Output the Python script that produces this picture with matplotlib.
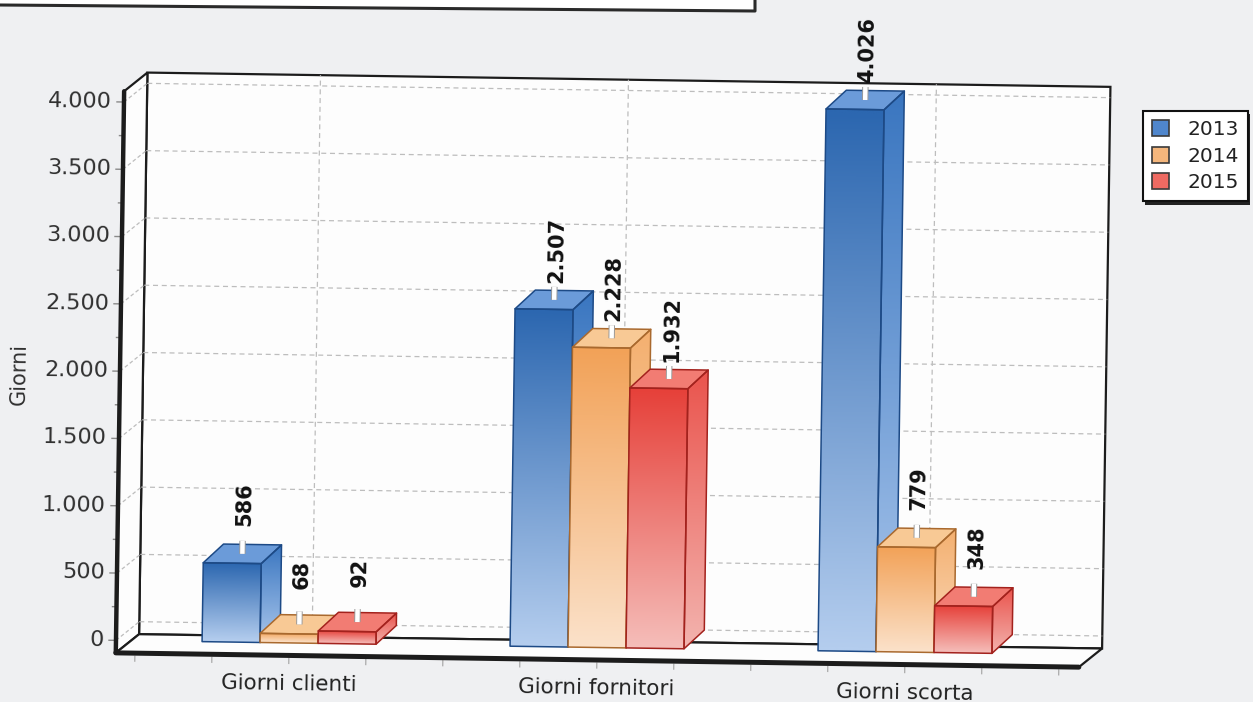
import numpy as np
import matplotlib
matplotlib.use("Agg")
import matplotlib.pyplot as plt
from matplotlib.patches import Polygon, Patch
from matplotlib.lines import Line2D
from matplotlib.colors import to_rgb
import matplotlib.transforms as mtransforms
import matplotlib.patheffects as pe

# ---------------- data ----------------
categories = ["Giorni clienti", "Giorni fornitori", "Giorni scorta"]
years = ["2013", "2014", "2015"]
giorni_2013 = [586, 2507, 4026]
giorni_2014 = [68, 2228, 779]
giorni_2015 = [92, 1932, 348]
y_ticks = [0, 500, 1000, 1500, 2000, 2500, 3000, 3500, 4000]
y_title = "Giorni"

series = [giorni_2013, giorni_2014, giorni_2015]


def fmt_it(v):
    """Italian thousands separator."""
    return f"{v:,}".replace(",", ".")


# ---------------- style ----------------
W_PX, H_PX, DPI = 1253, 702, 100
BG = "#eff0f2"
WALL = "#fdfdfd"
FRAME = "#1c1c1c"
GRID = "#bdbdbd"

palettes = [
    dict(front_top="#2c67b0", front_bot="#b4cdee", side_top="#3a76c0",
         side_bot="#a9c6ec", top="#6b9bd9", edge="#1d4a86", legend="#4f86cc"),
    dict(front_top="#f2a258", front_bot="#fbe1c9", side_top="#f4b070",
         side_bot="#f9d9bb", top="#f8c995", edge="#a9692e", legend="#f4b67c"),
    dict(front_top="#e6413a", front_bot="#f5bdb9", side_top="#ea544d",
         side_bot="#f3b3ae", top="#f27c73", edge="#a3221d", legend="#ee6a62"),
]

# geometry (pixel scale of the drawing)
CAT0_PX = 293.0        # x pixel of first category
CAT_STEP_PX = 308.0    # pixels per category unit
ZERO_PX = 647.5        # y pixel of value 0 on the front plane
PX_PER_VAL = 0.1346    # pixels per value unit

XLIM = (-0.95, 3.1)
YLIM = (-600, 4800)

FRAME_L, FRAME_R = -0.562, 2.565
FLOOR, TOP = -93, 4080
WALL_DX, WALL_DY = 23 / CAT_STEP_PX, 19 / PX_PER_VAL
BAR_W = 58 / CAT_STEP_PX
BAR_DX, BAR_DY = 20 / CAT_STEP_PX, 19 / PX_PER_VAL
TILT = -0.85

fig = plt.figure(figsize=(W_PX / DPI, H_PX / DPI), dpi=DPI, facecolor=BG)

left_px = CAT0_PX + XLIM[0] * CAT_STEP_PX
right_px = CAT0_PX + XLIM[1] * CAT_STEP_PX
top_px = ZERO_PX - YLIM[1] * PX_PER_VAL
bot_px = ZERO_PX - YLIM[0] * PX_PER_VAL
ax = fig.add_axes([left_px / W_PX, 1 - bot_px / H_PX,
                   (right_px - left_px) / W_PX, (bot_px - top_px) / H_PX])
ax.set_axis_off()
ax.patch.set_visible(False)
ax.set_xlim(*XLIM)
ax.set_ylim(*YLIM)
ax.set_autoscale_on(False)

# slight tilt of the whole chart
rot = mtransforms.Affine2D().rotate_deg_around(600, H_PX - 380, TILT)
T = ax.transData + rot


def poly(pts, **kw):
    p = Polygon(pts, closed=True, transform=T, clip_on=False, **kw)
    ax.add_patch(p)
    return p


def line(xs, ys, **kw):
    ln = Line2D(xs, ys, transform=T, clip_on=False, **kw)
    ax.add_line(ln)
    return ln


def gradient(pts, extent, c_top, c_bot, z):
    n = 64
    t = np.linspace(0, 1, n)[:, None, None]
    img = np.array(to_rgb(c_bot)) * (1 - t) + np.array(to_rgb(c_top)) * t
    img = np.repeat(img, 2, axis=1)
    im = ax.imshow(img, extent=extent, origin="lower", aspect="auto",
                   interpolation="bilinear", transform=T, zorder=z)
    clip = Polygon(pts, closed=True, transform=T, facecolor="none",
                   edgecolor="none")
    im.set_clip_path(clip)
    return im


L, R = FRAME_L, FRAME_R
# back wall, left wall, floor
poly([(L + WALL_DX, FLOOR + WALL_DY), (R + WALL_DX, FLOOR + WALL_DY),
      (R + WALL_DX, TOP + WALL_DY), (L + WALL_DX, TOP + WALL_DY)],
     facecolor=WALL, edgecolor=FRAME, lw=1.6, zorder=1)
poly([(L, FLOOR), (L + WALL_DX, FLOOR + WALL_DY),
      (L + WALL_DX, TOP + WALL_DY), (L, TOP)],
     facecolor=WALL, edgecolor=FRAME, lw=1.6, zorder=1)
poly([(L, FLOOR), (R, FLOOR), (R + WALL_DX, FLOOR + WALL_DY),
      (L + WALL_DX, FLOOR + WALL_DY)],
     facecolor=WALL, edgecolor=FRAME, lw=1.6, zorder=1)

# grid on the walls
for v in y_ticks:
    line([L + WALL_DX, R + WALL_DX], [v + WALL_DY, v + WALL_DY],
         color=GRID, lw=0.9, dashes=(4, 3), zorder=2)
    line([L, L + WALL_DX], [v, v + WALL_DY],
         color=GRID, lw=0.9, dashes=(3, 2), zorder=2)
for i in range(len(categories)):
    line([i + WALL_DX, i + WALL_DX], [FLOOR + WALL_DY, TOP + WALL_DY],
         color=GRID, lw=0.9, dashes=(4, 3), zorder=2)

# front edges of the frame
line([L, L], [FLOOR, TOP], color=FRAME, lw=3.2, zorder=30,
     solid_capstyle="round")
line([L, R], [FLOOR, FLOOR], color=FRAME, lw=3.6, zorder=30,
     solid_capstyle="round")

# axis ticks
for v in range(0, 4001, 250):
    ln = 7 if v % 500 == 0 else 4
    line([L - ln / CAT_STEP_PX, L], [v, v], color="#8a8a8a", lw=1, zorder=3)
for k in np.arange(-0.5, 2.51, 0.25):
    line([k, k], [FLOOR - 3 / PX_PER_VAL, FLOOR - 8 / PX_PER_VAL],
         color="#aaaaaa", lw=0.9, zorder=3)

# y tick labels and title
for v in y_ticks:
    ax.text(L - 12 / CAT_STEP_PX, v, fmt_it(v), transform=T, ha="right",
            va="center", fontsize=16, color="#303030", rotation=TILT,
            rotation_mode="anchor")
ax.text(L - 101 / CAT_STEP_PX, 1965, y_title, transform=T, ha="center",
        va="center", fontsize=15, color="#303030", rotation=90 + TILT,
        rotation_mode="anchor")

# category labels
for i, cat in enumerate(categories):
    ax.text(i, -305, cat, transform=T, ha="center", va="center",
            fontsize=15.5, color="#222222", rotation=TILT,
            rotation_mode="anchor")

# 3D bars
for i in range(len(categories)):
    for j, vals in enumerate(series):
        p = palettes[j]
        v = vals[i]
        z = 10 + i + j * 0.1
        xc = i + (j - 1) * BAR_W
        xl, xr = xc - BAR_W / 2, xc + BAR_W / 2
        front = [(xl, 0), (xr, 0), (xr, v), (xl, v)]
        side = [(xr, 0), (xr + BAR_DX, BAR_DY), (xr + BAR_DX, v + BAR_DY), (xr, v)]
        topf = [(xl, v), (xr, v), (xr + BAR_DX, v + BAR_DY), (xl + BAR_DX, v + BAR_DY)]
        gradient(front, (xl, xr, 0, v), p["front_top"], p["front_bot"], z)
        gradient(side, (xr, xr + BAR_DX, 0, v + BAR_DY), p["side_top"],
                 p["side_bot"], z)
        poly(topf, facecolor=p["top"], edgecolor="none", zorder=z)
        for pts in (front, side, topf):
            poly(pts, facecolor="none", edgecolor=p["edge"], lw=1.1,
                 zorder=z + 0.01, joinstyle="round")

        # marker from the top face up to the value label
        cx = xc + BAR_DX / 2
        cy = v + BAR_DY / 2
        line([cx, cx], [cy, cy + 13 / PX_PER_VAL], color="white", lw=3.2,
             zorder=40, solid_capstyle="butt",
             path_effects=[pe.Stroke(linewidth=4.6, foreground="#9a9a9a"),
                           pe.Normal()])
        ax.text(cx + 2 / CAT_STEP_PX, cy + 50 / PX_PER_VAL, fmt_it(v),
                transform=T, rotation=90 + TILT, rotation_mode="anchor",
                ha="center", va="center", fontsize=15, fontweight="bold",
                color="#111111", zorder=41)

# legend
handles = [Patch(facecolor=p["legend"], edgecolor="#3a3a3a", lw=1.2)
           for p in palettes]
leg = fig.legend(handles, years, loc="upper left",
                 bbox_to_anchor=(1143 / W_PX, 1 - 111 / H_PX),
                 frameon=True, fancybox=False, edgecolor="#111111",
                 facecolor="white", framealpha=1, fontsize=14.5,
                 handlelength=0.85, handleheight=0.85, labelspacing=0.38,
                 borderpad=0.45, handletextpad=0.9, borderaxespad=0,
                 shadow={"ox": 1.5, "oy": -2.5, "facecolor": "#222222",
                         "edgecolor": "none", "alpha": 1})
leg.get_frame().set_linewidth(1.5)
for t in leg.get_texts():
    t.set_color("#222222")

# edge of the box printed above the chart
box = Polygon([(0, 1.02), (0, 1 - 5 / H_PX), (755 / W_PX, 1 - 11 / H_PX),
               (755 / W_PX, 1.02)], closed=True, transform=fig.transFigure,
              facecolor="white", edgecolor="none")
fig.add_artist(box)
fig.add_artist(Line2D([0, 755 / W_PX, 755 / W_PX],
                      [1 - 5 / H_PX, 1 - 11 / H_PX, 1.02],
                      transform=fig.transFigure, color="#2a2a2a", lw=2.2))

fig.savefig("out.png", dpi=DPI, facecolor=BG)
